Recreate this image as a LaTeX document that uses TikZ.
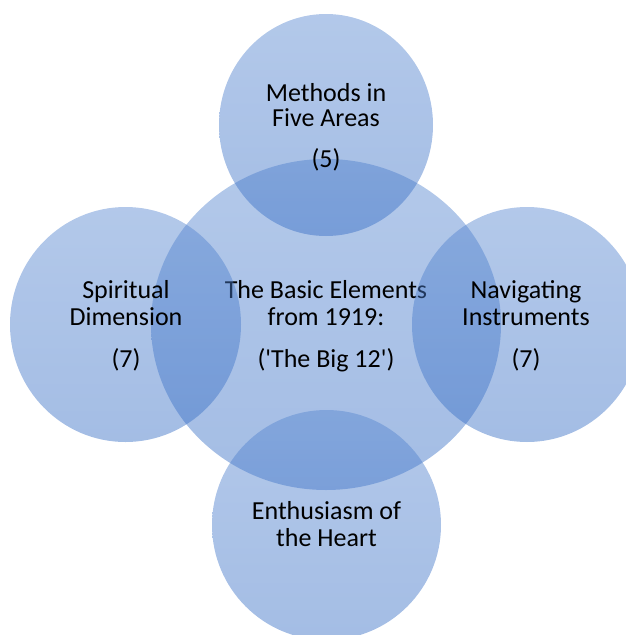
\documentclass[tikz,border=0pt]{standalone}
\usepackage{fontspec}
\setmainfont{Carlito}
\newfontfamily\plaincarlito{Carlito}[Ligatures=TeXOff]
\definecolor{bubbletop}{RGB}{86,134,208}
\definecolor{bubblebot}{RGB}{52,108,196}
\tikzset{
  bubble/.style={top color=bubbletop,bottom color=bubblebot,fill opacity=0.45,draw=none},
  txt/.style={font=\fontsize{26}{26}\selectfont,anchor=base,inner sep=0pt,text=black}
}
\begin{document}
\begin{tikzpicture}[x=1pt,y=-1pt]
			\useasboundingbox (0,0) rectangle (626,635);
			\clip (0,0) rectangle (626,635);
			% centre
			\shade[bubble] (326,324.5) ellipse [x radius=175,y radius=165.5];
			\node[txt] (mid1) at (326,298) {The Basic Elements};
			\node[txt] (mid2) at (326,325) {from 1919:};
			\node[txt,font=\fontsize{26}{26}\plaincarlito] (mid3) at (326,367) {('The Big 12')};
			% top
			\shade[bubble] (326,125) ellipse [x radius=107,y radius=111];
			\node[txt] (top1) at (326,101) {Methods in};
			\node[txt] (top2) at (326,126) {Five Areas};
			\node[txt] (top3) at (326,167) {(5)};
			% right
			\shade[bubble] (527,324.5) ellipse [x radius=115,y radius=117.5];
			\node[txt] (right1) at (526,298) {Navigating};
			\node[txt] (right2) at (526,325) {Instruments};
			\node[txt] (right3) at (526,367) {(7)};
			% bottom
			\shade[bubble] (326.5,525) ellipse [x radius=114.5,y radius=115];
			\node[txt] (bot1) at (326.5,519) {Enthusiasm of};
			\node[txt] (bot2) at (326.5,546) {the Heart};
			% left
			\shade[bubble] (125.5,324.5) ellipse [x radius=115.5,y radius=117.5];
			\node[txt] (left1) at (126,298) {Spiritual};
			\node[txt] (left2) at (126,325) {Dimension};
			\node[txt] (left3) at (126,367) {(7)};
\end{tikzpicture}
\end{document}
